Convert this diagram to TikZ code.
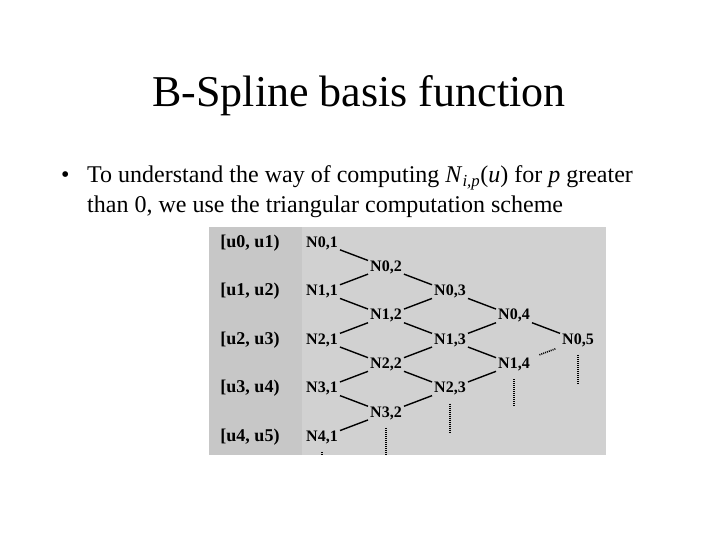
\documentclass[tikz,border=0pt]{standalone}
\usepackage{fontspec}
\setmainfont{Liberation Serif}
\begin{document}
\begin{tikzpicture}[x=1pt,y=-1pt,
  cell/.style={font=\fontsize{16}{16}\selectfont\bfseries,inner sep=2pt},
  span/.style={font=\fontsize{18}{18}\selectfont\bfseries,inner sep=2pt},
  body/.style={anchor=base west,inner sep=0pt,font=\fontsize{24}{28}\selectfont},
  link/.style={black,line width=1.4pt},
  tail/.style={black,line width=1.6pt,dash pattern=on 1pt off 1pt}]
\useasboundingbox (0,0) rectangle (720,540);
\fill[white] (0,0) rectangle (720,540);
% title and bullet
\node[anchor=base,font=\fontsize{44}{44}\selectfont] (title) at (359,107) {B-Spline basis function};
\node[body] (dot) at (61,183) {\textbullet};
\node[body] (line1) at (87,183)
  {To understand the way of computing \textit{N}\textsubscript{\textit{i,p}}(\textit{u}) for \textit{p} greater};
\node[body] (line2) at (87,213) {than 0, we use the triangular computation scheme};
% scheme
\fill[black!22] (209,227) rectangle (302,455);
\fill[black!18] (302,227) rectangle (606,455);
\foreach \k [evaluate=\k as \kk using int(\k+1)] in {0,...,4}
  \node[span] (u\k) at (250,{243+48.5*\k}) {[u\k, u\kk)};
\foreach \j [evaluate=\j as \m using int(5-\j)] in {1,...,5}
  \foreach \i in {0,...,\m}
    \node[cell] (N\i\j) at ({322+64*(\j-1)},{243+24.3*(2*\i+\j-1)}) {N\i,\j};
\foreach \j [evaluate=\j as \m using int(4-\j)] in {1,2,3}
  \foreach \i in {0,...,\m}{
    \pgfmathtruncatemacro{\inext}{\i+1}
    \pgfmathtruncatemacro{\jnext}{\j+1}
    \draw[link] (N\i\j)--(N\i\jnext);
    \draw[link] (N\inext\j)--(N\i\jnext);
  }
\draw[link] (N04)--(N05);
\draw[tail,shorten <=8pt,shorten >=5pt] (N14)--(N05);
% dotted tails
\foreach \i/\j/\y in {4/1/455,3/2/455,2/3/432,1/4/407,0/5/383}{
  \coordinate (T\i\j) at (N\i\j |- 0,\y);
  \draw[tail,shorten <=6pt] (N\i\j)--(T\i\j);
}
\end{tikzpicture}
\end{document}
